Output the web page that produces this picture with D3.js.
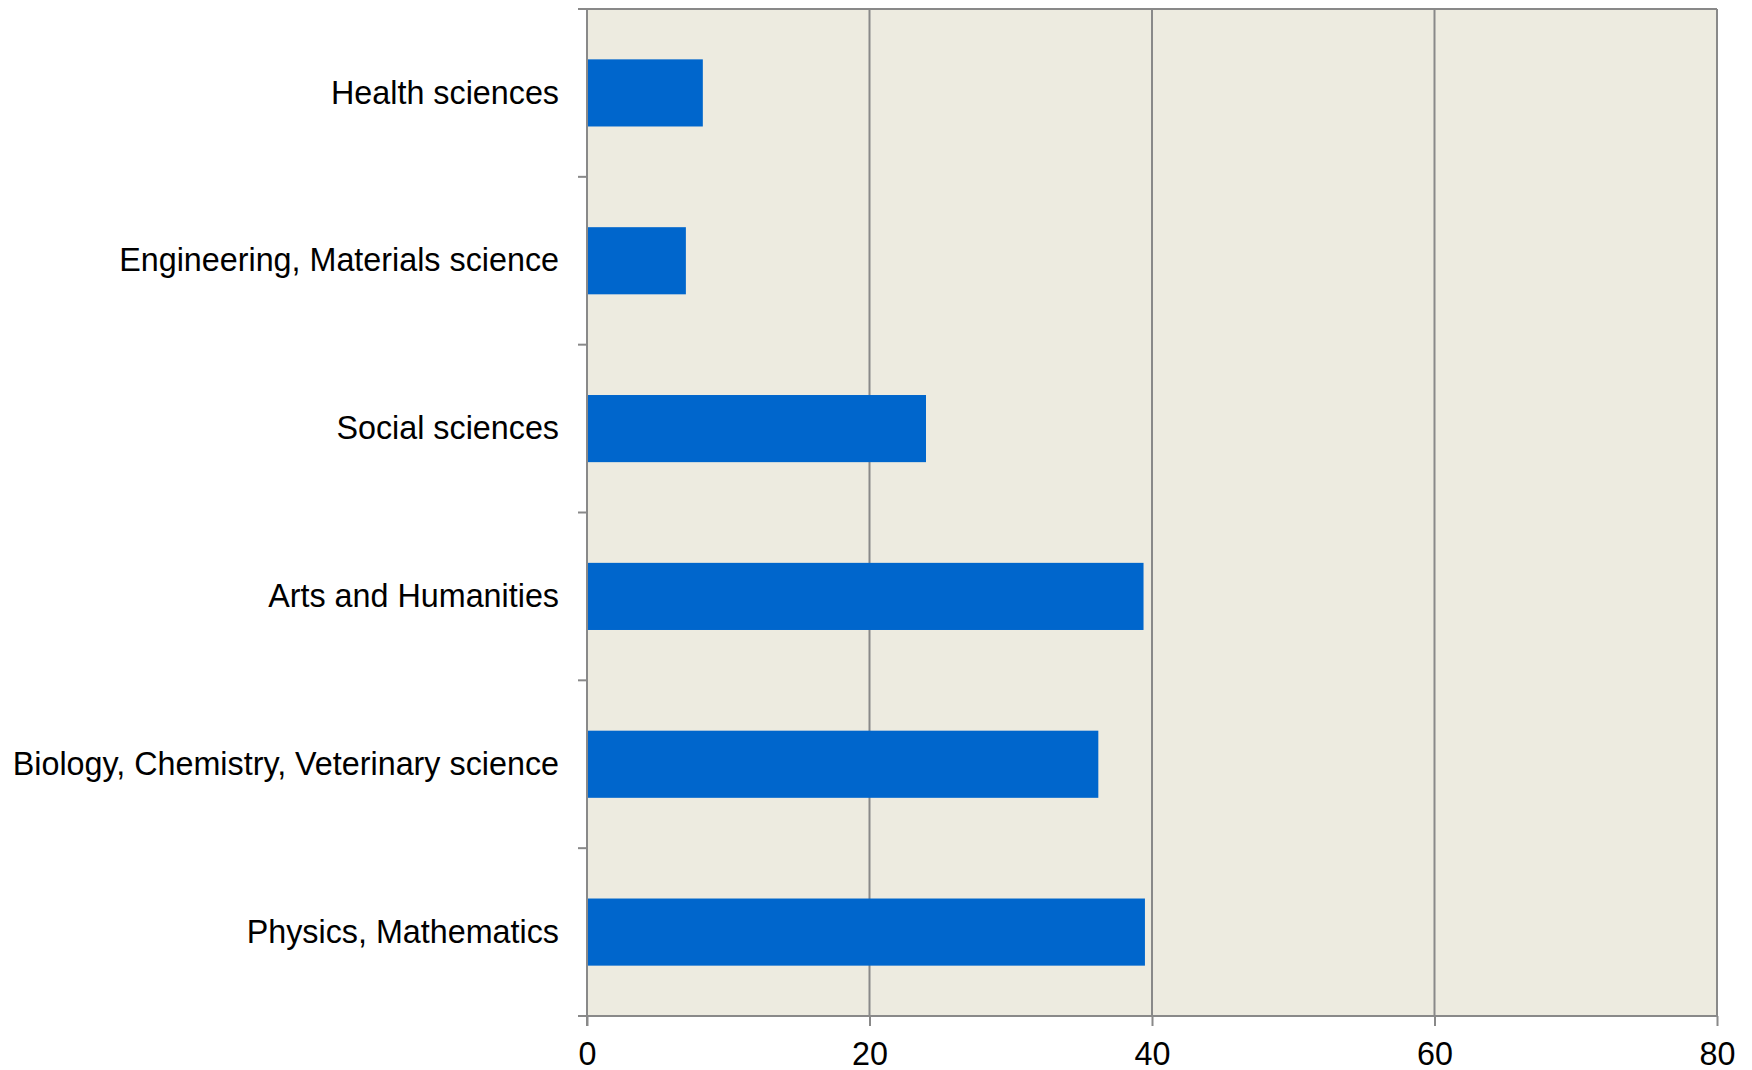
<!DOCTYPE html>
<html>
<head>
<meta charset="utf-8">
<script src="https://cdn.jsdelivr.net/npm/d3@7"></script>
<style>
  html, body { margin: 0; padding: 0; background: #ffffff; }
  svg { display: block; }
  text { font-family: "Liberation Sans", Arial, sans-serif; fill: #000; }
</style>
</head>
<body>
<svg id="chart" width="1752" height="1070"></svg>
<script>
// Fields, listed top to bottom
const categories = [
  "Health sciences",
  "Engineering, Materials science",
  "Social sciences",
  "Arts and Humanities",
  "Biology, Chemistry, Veterinary science",
  "Physics, Mathematics"
];
const values = [8.2, 7.0, 24.0, 39.4, 36.2, 39.5];
const xTicks = [0, 20, 40, 60, 80];

const svg = d3.select("#chart");
const margin = { left: 587, right: 35, top: 9, bottom: 54 };
const W = 1752, H = 1070;
const x0 = margin.left, x1 = W - margin.right;
const y0 = margin.top, y1 = H - margin.bottom;
const fontSize = 32.3;

const x = d3.scaleLinear().domain([0, 80]).range([x0, x1]);
const y = d3.scaleBand().domain(categories).range([y0, y1])
  .paddingInner(0.6).paddingOuter(0.3);

const axisColor = "#898989";
const lineW = 2;

// plot background
svg.append("rect")
  .attr("x", x0).attr("y", y0)
  .attr("width", x1 - x0).attr("height", y1 - y0)
  .attr("fill", "#edebe0");

// vertical grid lines
svg.append("g").selectAll("line")
  .data(xTicks.slice(1))
  .join("line")
  .attr("x1", d => x(d)).attr("x2", d => x(d))
  .attr("y1", y0).attr("y2", y1)
  .attr("stroke", axisColor).attr("stroke-width", lineW);

// top border
svg.append("line")
  .attr("x1", x0).attr("x2", x1)
  .attr("y1", y0).attr("y2", y0)
  .attr("stroke", axisColor).attr("stroke-width", lineW);

// bars
svg.append("g").selectAll("rect")
  .data(categories.map((c, i) => ({ c, v: values[i] })))
  .join("rect")
  .attr("x", x(0))
  .attr("y", d => y(d.c))
  .attr("width", d => x(d.v) - x(0))
  .attr("height", y.bandwidth())
  .attr("fill", "#0066cc");

// x axis
const xAxis = d3.axisBottom(x).tickValues(xTicks).tickSize(10).tickPadding(16)
  .tickFormat(d3.format("d"));
const gx = svg.append("g").attr("transform", `translate(0,${y1})`).call(xAxis);
gx.select(".domain").attr("stroke", axisColor).attr("stroke-width", lineW)
  .attr("d", `M${x0 - 9},0H${x1}`);
gx.selectAll(".tick line").attr("stroke", axisColor).attr("stroke-width", lineW);
gx.selectAll(".tick text")
  .attr("font-size", fontSize)
  .attr("font-family", "Liberation Sans, Arial, sans-serif")
  .attr("fill", "#000");

// y axis: line, ticks at band boundaries, labels centered on bands
const gap = (y.step() - y.bandwidth()) / 2;
const boundaries = categories.map(c => y(c) - gap).concat([y1]);
const gy = svg.append("g");
gy.append("line")
  .attr("x1", x0).attr("x2", x0)
  .attr("y1", y0).attr("y2", y1 + 10)
  .attr("stroke", axisColor).attr("stroke-width", lineW);
gy.selectAll("line.tick")
  .data(boundaries)
  .join("line")
  .attr("class", "tick")
  .attr("x1", x0 - 9).attr("x2", x0)
  .attr("y1", d => d).attr("y2", d => d)
  .attr("stroke", axisColor).attr("stroke-width", lineW);
gy.selectAll("text")
  .data(categories)
  .join("text")
  .attr("x", x0 - 28)
  .attr("y", d => y(d) + y.bandwidth() / 2)
  .attr("dy", "0.33em")
  .attr("text-anchor", "end")
  .attr("font-size", fontSize)
  .text(d => d);

// right border
svg.append("line")
  .attr("x1", x1).attr("x2", x1)
  .attr("y1", y0).attr("y2", y1)
  .attr("stroke", axisColor).attr("stroke-width", lineW);
</script>
</body>
</html>
